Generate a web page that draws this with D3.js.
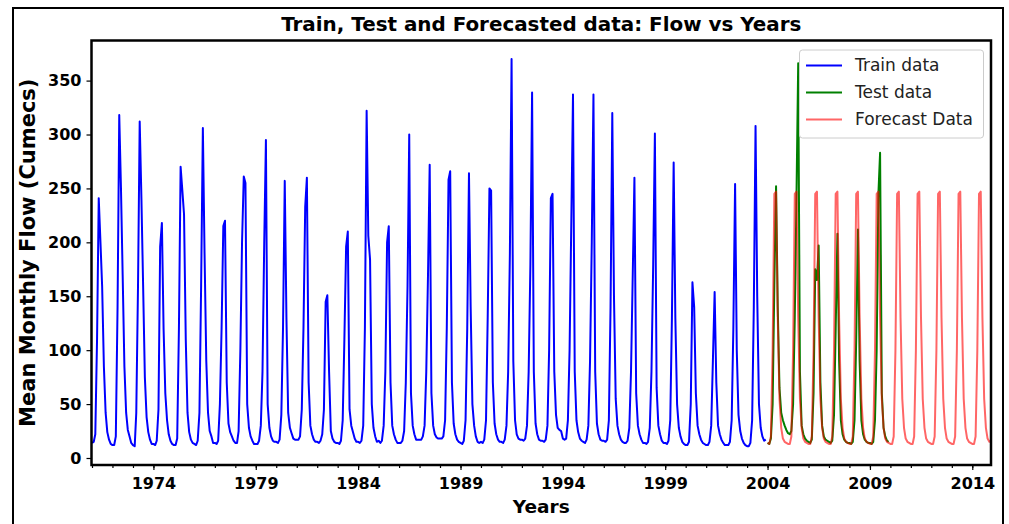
<!DOCTYPE html>
<html><head><meta charset="utf-8">
<script src="https://cdn.jsdelivr.net/npm/d3@7"></script>
<style>body{margin:0;background:#fff} text{font-family:"DejaVu Sans",sans-serif}</style>
</head><body>
<svg id="chart" width="1009" height="524"></svg>
<script>
// ---- data (monthly mean flow, cumecs) ----
const trainStart = [1971, 0];
const trainValues = [
  14,15,22,110,241,200,159,85,42,24,17,13,      // 1971
  12,12,20,140,318,250,170,85,42,26,20,14,      // 1972
  12,11,42,160,312,240,160,75,38,24,17,13,      // 1973
  13,12,16,45,196,218,120,60,35,22,16,13,       // 1974
  12,12,18,120,270,248,226,110,42,24,17,14,     // 1975
  13,12,16,42,160,306,190,90,42,25,20,14,       // 1976
  14,13,16,50,120,215,220,70,32,24,20,16,       // 1977
  14,14,25,100,200,261,255,50,28,20,16,13,      // 1978
  13,13,16,30,80,200,295,50,28,20,16,15,        // 1979
  15,14,17,40,120,257,130,42,28,23,18,17,       // 1980
  17,17,20,45,120,233,260,70,30,22,17,15,       // 1981
  15,14,16,22,45,145,151,80,25,18,15,14,        // 1982
  14,13,16,35,110,196,210,45,30,24,18,15,       // 1983
  15,14,16,30,120,322,206,184,50,28,20,15,      // 1984
  16,14,16,30,80,200,215,70,30,22,17,14,        // 1985
  14,14,16,25,70,160,300,60,30,22,17,17,        // 1986
  17,17,20,30,80,170,272,60,30,22,19,18,        // 1987
  18,18,20,35,120,258,266,70,32,22,17,15,       // 1988
  14,13,16,35,120,264,140,50,30,20,15,14,       // 1989
  15,14,17,35,130,250,248,70,32,22,17,15,       // 1990
  15,14,17,30,80,190,370,90,35,22,18,17,        // 1991
  17,16,18,30,80,180,339,80,32,22,17,16,        // 1992
  16,15,17,30,100,241,245,80,40,28,26,25,       // 1993
  18,17,18,35,100,220,337,80,35,24,18,16,       // 1994
  15,14,17,30,90,200,337,80,32,22,17,16,        // 1995
  16,15,17,35,140,320,150,55,30,22,17,15,       // 1996
  14,14,16,28,80,170,260,60,30,22,17,14,        // 1997
  14,13,15,28,80,180,301,65,30,22,16,14,        // 1998
  14,13,16,35,130,274,130,50,28,20,15,13,       // 1999
  12,12,15,50,163,140,60,30,22,17,14,13,        // 2000
  12,12,15,30,90,154,70,30,22,17,14,12,         // 2001
  12,12,15,35,120,254,100,40,25,18,14,12,       // 2002
  11,11,14,35,140,308,150,50,28,20,16,17        // 2003
];
const testStart = [2004, 0];
const testValues = [
  14,13,18,50,160,252,140,65,42,35,30,26,       // 2004
  23,22,25,50,130,245,366,80,30,22,18,16,       // 2005
  15,14,17,60,175,165,197,70,30,20,17,16,       // 2006
  15,14,16,40,120,208,90,35,22,17,15,14,        // 2007
  14,13,15,35,110,212,90,35,22,17,15,14,        // 2008
  14,13,15,35,100,245,283,60,28,20,16,15        // 2009
];
const forecastStart = [2004, 0];
const forecastValues = [
  14,13,20,100,245,247,130,55,28,18,15,14,      // 2004
  13,13,20,100,245,247,130,55,28,18,15,14,      // 2005
  13,13,20,100,245,247,130,55,28,18,15,14,      // 2006
  13,13,20,100,245,247,130,55,28,18,15,14,      // 2007
  13,13,20,100,245,247,130,55,28,18,15,14,      // 2008
  13,13,20,100,245,247,130,55,28,18,15,14,      // 2009
  13,13,20,100,245,247,130,55,28,18,15,14,      // 2010
  13,13,20,100,245,247,130,55,28,18,15,14,      // 2011
  13,13,20,100,245,247,130,55,28,18,15,14,      // 2012
  13,13,20,100,245,247,130,55,28,18,15,14,      // 2013
  13,13,20,100,245,247,130,55,28,18,15,16       // 2014
];
const xMajorYears = [1974, 1979, 1984, 1989, 1994, 1999, 2004, 2009, 2014];
const xMinorYears = [1971,1972,1973,1974,1975,1976,1977,1978,1979,1980,1981,1982,1983,1984,1985,1986,1987,1988,1989,1990,
  1991,1992,1993,1994,1995,1996,1997,1998,1999,2000,2001,2002,2003,2004,2005,2006,2007,2008,2009,2010,2011,2012,2013,2014];
const yTicks = [0, 50, 100, 150, 200, 250, 300, 350];
const seriesNames = ["Train data", "Test data", "Forecast Data"];
const seriesColors = ["#0000ff", "#008000", "#ff0000"];
const seriesOpacity = [1, 1, 0.6];

// ---- build ----
const toPoints = (start, vals) => vals.map((v, i) => ({ date: new Date(start[0], start[1] + i, 1), v }));
const series = [toPoints(trainStart, trainValues), toPoints(testStart, testValues), toPoints(forecastStart, forecastValues)];

const L = 91.5, R = 991, T = 40.5, B = 465;
const svg = d3.select("#chart");
const x = d3.scaleTime().domain([new Date(1971, 0, 1), new Date(2014, 11, 1)]).range([92, 991]);
const y = d3.scaleLinear().domain([-6.5, 387]).range([465, 40.7]);

// figure border
svg.append("rect").attr("x", 13).attr("y", 8).attr("width", 990).attr("height", 530)
  .attr("fill", "none").attr("stroke", "#000").attr("stroke-width", 2);

svg.append("clipPath").attr("id", "clip").append("rect")
  .attr("x", L).attr("y", T).attr("width", R - L).attr("height", B - T);

const line = d3.line().x(d => x(d.date)).y(d => y(d.v));
const g = svg.append("g").attr("clip-path", "url(#clip)");
series.forEach((s, i) => {
  g.append("path").datum(s).attr("d", line).attr("fill", "none")
    .attr("stroke", seriesColors[i]).attr("stroke-opacity", seriesOpacity[i])
    .attr("stroke-width", 2).attr("stroke-linejoin", "round");
});

// axes
const xMajor = svg.append("g").attr("transform", `translate(0,${B})`)
  .call(d3.axisBottom(x).tickValues(xMajorYears.map(yv => new Date(yv, 0, 1)))
    .tickFormat(d3.timeFormat("%Y")).tickSize(5).tickPadding(8));
const xMinor = svg.append("g").attr("transform", `translate(0,${B})`)
  .call(d3.axisBottom(x).tickValues(xMinorYears.map(yv => new Date(yv, 0, 1))).tickFormat("").tickSize(3));
const yAxis = svg.append("g").attr("transform", `translate(${L},0)`)
  .call(d3.axisLeft(y).tickValues(yTicks).tickSize(5).tickPadding(5));
[xMajor, xMinor, yAxis].forEach(a => {
  a.select(".domain").remove();
  a.selectAll(".tick line").attr("stroke", "#000").attr("stroke-width", 1.2);
  a.selectAll("text").attr("font-size", 16).attr("font-weight", "bold").attr("fill", "#000")
    .attr("font-family", "DejaVu Sans");
});

// plot frame
svg.append("rect").attr("x", L).attr("y", T).attr("width", R - L).attr("height", B - T)
  .attr("fill", "none").attr("stroke", "#000").attr("stroke-width", 2.5);

// title and labels
svg.append("text").attr("x", (L + R) / 2).attr("y", 31).attr("text-anchor", "middle")
  .attr("font-size", 19.9).attr("font-weight", "bold").text("Train, Test and Forecasted data: Flow vs Years");
svg.append("text").attr("x", (L + R) / 2).attr("y", 513).attr("text-anchor", "middle")
  .attr("font-size", 18.5).attr("font-weight", "bold").text("Years");
svg.append("text").attr("transform", `translate(35,${(T + B) / 2}) rotate(-90)`).attr("text-anchor", "middle")
  .attr("font-size", 21).attr("font-weight", "bold").text("Mean Monthly Flow (Cumecs)");

// legend
const lg = svg.append("g");
lg.append("rect").attr("x", 799.5).attr("y", 50).attr("width", 184).attr("height", 88).attr("rx", 3)
  .attr("fill", "#fff").attr("fill-opacity", 0.8).attr("stroke", "#cccccc").attr("stroke-width", 1);
seriesNames.forEach((n, i) => {
  const yy = 65.5 + i * 27;
  lg.append("line").attr("x1", 806).attr("x2", 842).attr("y1", yy).attr("y2", yy)
    .attr("stroke", seriesColors[i]).attr("stroke-opacity", seriesOpacity[i]).attr("stroke-width", 2.2);
  lg.append("text").attr("x", 855).attr("y", yy).attr("dy", "0.35em").attr("font-size", 17)
    .attr("fill", "#222").text(n);
});
</script>
</body></html>
